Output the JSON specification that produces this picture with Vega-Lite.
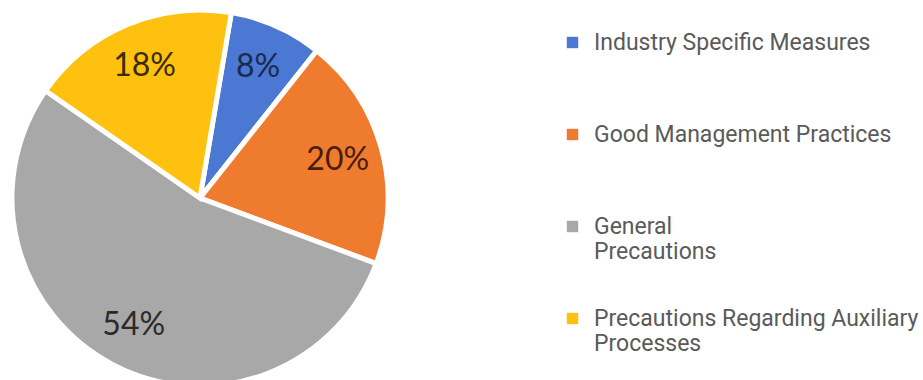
{
  "$schema": "https://vega.github.io/schema/vega-lite/v6.json",
  "width": 400,
  "height": 390,
  "padding": 0,
  "background": "white",
  "config": {"view": {"stroke": null}},
  "data": {
    "values": [
      {"category": "Industry Specific Measures", "share": 0.08, "idx": 1},
      {"category": "Good Management Practices", "share": 0.20, "idx": 2},
      {"category": "General Precautions", "share": 0.54, "idx": 3},
      {"category": "Precautions Regarding Auxiliary Processes", "share": 0.18, "idx": 4}
    ]
  },
  "encoding": {
    "theta": {"field": "share", "type": "quantitative", "stack": true, "scale": {"range": [0.1676, 6.4508]}},
    "order": {"field": "idx", "type": "quantitative"}
  },
  "layer": [
    {
      "mark": {"type": "arc", "outerRadius": 188, "stroke": "white", "strokeWidth": 5},
      "encoding": {
        "color": {
          "field": "category",
          "type": "nominal",
          "sort": ["Industry Specific Measures", "Good Management Practices", "General Precautions", "Precautions Regarding Auxiliary Processes"],
          "scale": {
            "domain": ["Industry Specific Measures", "Good Management Practices", "General Precautions", "Precautions Regarding Auxiliary Processes"],
            "range": ["#4a78d2", "#ef7b2e", "#a8a8a8", "#ffc10f"]
          },
          "legend": {
            "orient": "none",
            "legendX": 561,
            "legendY": 28,
            "direction": "vertical",
            "title": null,
            "symbolType": "square",
            "symbolSize": 130,
            "symbolStrokeWidth": 0,
            "labelFont": "Roboto",
            "labelFontSize": 23,
            "labelColor": "#5a5a5a",
            "labelLimit": 400,
            "labelOffset": 10,
            "rowPadding": 43,
            "padding": 0,
            "labelExpr": "datum.label == 'General Precautions' ? ['General', 'Precautions'] : datum.label == 'Precautions Regarding Auxiliary Processes' ? ['Precautions Regarding Auxiliary', 'Processes'] : [datum.label, ' ']"
          }
        }
      }
    },
    {
      "mark": {"type": "text", "radius": 143, "font": "Lato", "fontSize": 32},
      "encoding": {
        "text": {"field": "share", "type": "quantitative", "format": ".0%"},
        "fill": {
          "condition": [
            {"test": "datum.category == 'Industry Specific Measures'", "value": "#1c2a52"},
            {"test": "datum.category == 'Good Management Practices'", "value": "#4a1c0c"},
            {"test": "datum.category == 'Precautions Regarding Auxiliary Processes'", "value": "#3a2c08"}
          ],
          "value": "#2a2a2a"
        }
      }
    }
  ]
}
